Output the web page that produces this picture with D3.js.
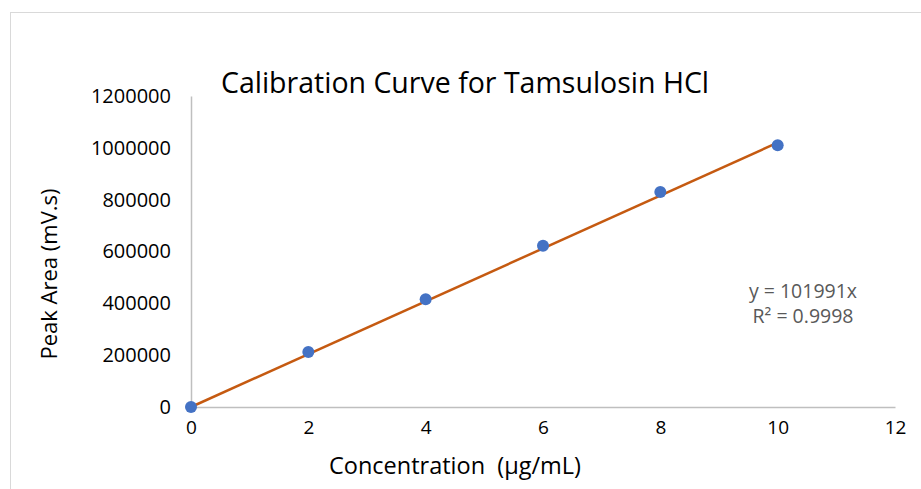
<!DOCTYPE html>
<html>
<head>
<meta charset="utf-8">
<script src="https://cdn.jsdelivr.net/npm/d3@7"></script>
<style>
  body { margin: 0; background: #fff; }
  svg text { font-family: "Open Sans", "Noto Sans", sans-serif; }
</style>
</head>
<body>
<div id="viz"></div>
<script>
// data
var concentrations = [0, 2, 4, 6, 8, 10];
var peakAreas = [0, 212000, 416000, 622000, 830000, 1010000];
var xTicks = [0, 2, 4, 6, 8, 10, 12];
var yTicks = [0, 200000, 400000, 600000, 800000, 1000000, 1200000];
var slope = 101991;
var rSquared = "0.9998";

// layout
var width = 921, height = 489;
var plotLeft = 191, plotRight = 895, plotTop = 96, plotBottom = 407;

var svg = d3.select("#viz").append("svg")
  .attr("width", width)
  .attr("height", height);

// chart border (only top/left visible in the crop)
svg.append("rect")
  .attr("x", 10.5).attr("y", 12.5)
  .attr("width", 940).attr("height", 500)
  .attr("fill", "none")
  .attr("stroke", "#d9d9d9");

var x = d3.scaleLinear().domain([0, 12]).range([plotLeft, plotRight]);
var y = d3.scaleLinear().domain([0, 1200000]).range([plotBottom, plotTop]);

// axes
var xAxis = d3.axisBottom(x).tickValues(xTicks).tickSize(0).tickPadding(22);
var yAxis = d3.axisLeft(y).tickValues(yTicks).tickSize(0).tickPadding(20)
  .tickFormat(d3.format("d"));

var gx = svg.append("g").attr("transform", "translate(0," + plotBottom + ")").call(xAxis);
var gy = svg.append("g").attr("transform", "translate(" + plotLeft + ",0)").call(yAxis);

[gx, gy].forEach(function(g) {
  g.select(".domain").attr("stroke", "#bfbfbf").attr("stroke-width", 1.5);
  g.selectAll("text").attr("font-size", 19).attr("fill", "#000");
});
gx.selectAll("text").attr("dy", "0.25em");
gy.selectAll("text").attr("font-size", 20);

// trendline y = slope * x
var xMax = d3.max(concentrations);
svg.append("line")
  .attr("x1", x(0)).attr("y1", y(0))
  .attr("x2", x(xMax)).attr("y2", y(slope * xMax))
  .attr("stroke", "#c55a11")
  .attr("stroke-width", 2.5);

// points
svg.append("g").selectAll("circle")
  .data(concentrations)
  .enter().append("circle")
  .attr("cx", function(d) { return x(d); })
  .attr("cy", function(d, i) { return y(peakAreas[i]); })
  .attr("r", 6)
  .attr("fill", "#4472c4");

// titles
svg.append("text")
  .attr("x", 465).attr("y", 93)
  .attr("text-anchor", "middle")
  .attr("font-size", 28.5)
  .attr("fill", "#000")
  .text("Calibration Curve for Tamsulosin HCl");

svg.append("text")
  .attr("x", 455).attr("y", 474)
  .attr("text-anchor", "middle")
  .attr("font-size", 23.5)
  .attr("fill", "#000")
  .attr("xml:space", "preserve")
  .text("Concentration  (µg/mL)");

svg.append("text")
  .attr("transform", "translate(57,274) rotate(-90)")
  .attr("text-anchor", "middle")
  .attr("font-size", 22)
  .attr("fill", "#000")
  .text("Peak Area (mV.s)");

// trendline label
svg.append("text")
  .attr("x", 803).attr("y", 298)
  .attr("text-anchor", "middle")
  .attr("font-size", 19.5)
  .attr("fill", "#595959")
  .text("y = " + slope + "x");

svg.append("text")
  .attr("x", 803).attr("y", 323)
  .attr("text-anchor", "middle")
  .attr("font-size", 19.5)
  .attr("fill", "#595959")
  .text("R² = " + rSquared);
</script>
</body>
</html>
